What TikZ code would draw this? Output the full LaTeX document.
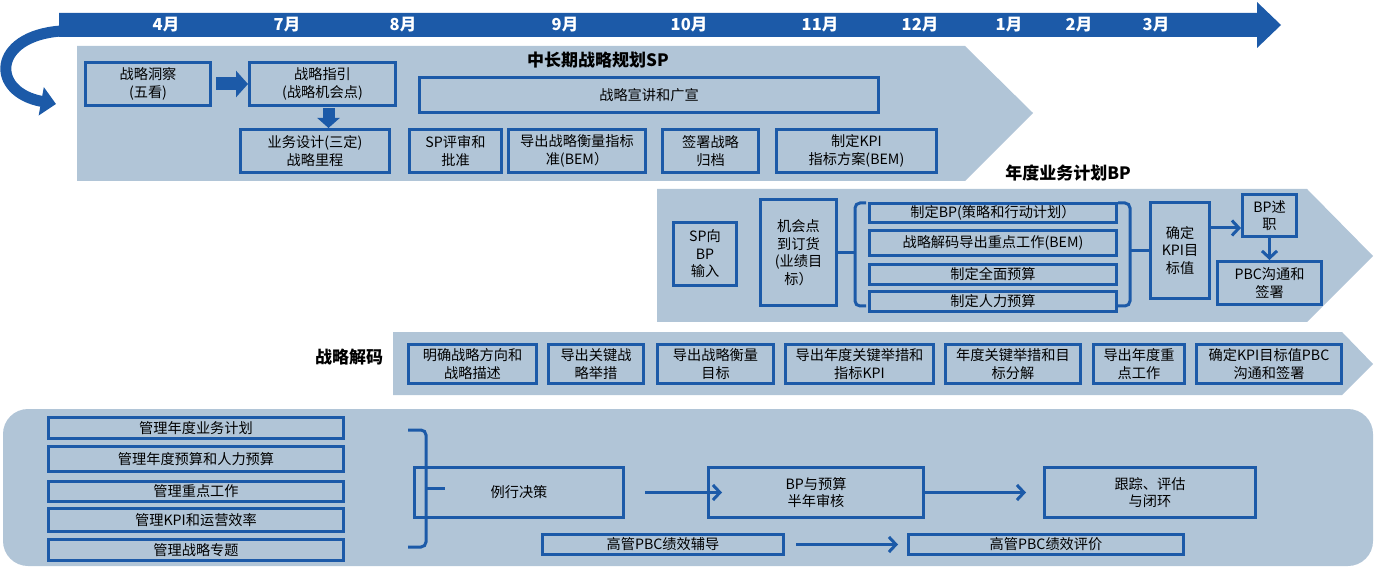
\documentclass[tikz,border=0pt]{standalone}
\usepackage{fontspec}
\setmainfont{Noto Sans CJK SC}
\usetikzlibrary{arrows.meta}
\definecolor{bblue}{HTML}{1C5AA8}
\definecolor{panel}{HTML}{B1C5D7}
\newcommand{\mybox}[6]{\node[box, minimum width={#4-#2-2.6}, minimum height={#5-#3-2.6}] (#1) at ({(#2+#4)/2},{(#3+#5)/2}) {#6};}
\begin{document}
\begin{tikzpicture}[x=1pt,y=-1pt,
 box/.style={draw=bblue, line width=2.6pt, inner sep=1pt, align=center, font=\fontsize{14.2}{17.5}\selectfont, text=black},
 ttl/.style={font=\bfseries\fontsize{17}{19}\selectfont, inner sep=0pt},
 mon/.style={font=\bfseries\fontsize{16.5}{18}\selectfont, text=white, inner sep=0pt},
 conn/.style={draw=bblue, line width=3pt, -{Straight Barb[length=7pt,width=15pt]}},
 brc/.style={draw=bblue, line width=3pt, rounded corners=5pt}
]
\useasboundingbox (0,0) rectangle (1376,569);

% panels
\fill[panel] (77,46) -- (965,46) -- (1033,113) -- (965,181) -- (77,181) -- cycle;
\fill[panel] (657,189) -- (1307,189) -- (1373,256) -- (1307,322) -- (657,322) -- cycle;
\fill[panel] (393,332) -- (1342,332) -- (1373,364) -- (1342,395) -- (393,395) -- cycle;
\fill[panel, rounded corners=25pt] (3,409) rectangle (1373,566);

% timeline
\fill[bblue] (59,13) -- (1257,13) -- (1257,2) -- (1281,25) -- (1257,48) -- (1257,37) -- (59,37) -- cycle;
\draw[bblue, line width=11pt, -{Triangle[length=15pt,width=28pt]}] (61,31) .. controls (-8,36) and (-10,92) .. (56,104);

\node[mon] (mA) at (166,25) {4月};
\node[mon] (mB) at (287,25) {7月};
\node[mon] (mC) at (403,25) {8月};
\node[mon] (mD) at (565,25) {9月};
\node[mon] (mE) at (689,25) {10月};
\node[mon] (mF) at (820,25) {11月};
\node[mon] (mG) at (920,25) {12月};
\node[mon] (mH) at (1009,25) {1月};
\node[mon] (mI) at (1079,25) {2月};
\node[mon] (mJ) at (1156,25) {3月};

% titles
\node[ttl] (sptitle) at (598,60) {中长期战略规划SP};
\node[ttl] (bptitle) at (1068,173) {年度业务计划BP};
\node[ttl] (dectitle) at (349,357) {战略解码};

% SP
\mybox{insight}{84}{61}{212}{107}{战略洞察\\(五看)}
\mybox{guide}{248}{61}{397}{107}{战略指引\\(战略机会点)}
\mybox{design}{239}{128}{391}{174}{业务设计(三定)\\战略里程}
\mybox{preach}{418}{76}{880}{114}{战略宣讲和广宣}
\mybox{review}{408}{128}{503}{174}{SP评审和\\批准}
\mybox{bem}{507}{128}{647}{174}{导出战略衡量指标\\准(BEM）}
\mybox{sign}{661}{128}{760}{174}{签署战略\\归档}
\mybox{kpi}{775}{128}{938}{174}{制定KPI\\指标方案(BEM)}

\draw[bblue, line width=13pt, -{Triangle[length=12pt,width=26pt]}] ([xshift=4pt]insight.east) -- (guide.west);
\draw[bblue, line width=12pt, -{Triangle[length=10pt,width=22pt]}] ([xshift=6pt,yshift=-1pt]guide.south) -- ([xshift=6pt]guide.south |- design.north);

% BP
\mybox{spbp}{672}{221}{738}{287}{SP向\\BP\\输入}
\mybox{opp}{759}{198}{838}{307}{机会点\\到订货\\(业绩目\\标）}
\mybox{bpa}{868}{202}{1118}{224}{制定BP(策略和行动计划）}
\mybox{bpb}{868}{229}{1118}{257}{战略解码导出重点工作(BEM)}
\mybox{bpc}{868}{263}{1118}{286}{制定全面预算}
\mybox{bpd}{868}{290}{1118}{313}{制定人力预算}
\mybox{kpit}{1149}{201}{1211}{300}{确定\\KPI目\\标值}
\mybox{bpsz}{1241}{193}{1298}{238}{BP述\\职}
\mybox{pbc}{1216}{260}{1323}{306}{PBC沟通和\\签署}

\coordinate (lb) at (855,254);
\coordinate (rb) at (1130,254);
\draw[brc] (866,203) -- (855,203) -- (855,306) -- (866,306);
\draw[brc, rounded corners=0pt] (opp.east) -- (opp.east -| lb);
\draw[brc] (1118,203) -- (1130,203) -- (1130,306) -- (1118,306);
\draw[brc, rounded corners=0pt] (kpit.west -| rb) -- (kpit.west);

\draw[conn] ([yshift=-27pt]kpit.north east) -- ([yshift=-27pt]kpit.north east -| bpsz.west);
\draw[conn] (bpsz.south) -- (bpsz.south |- pbc.north);

% decode
\mybox{da}{407}{343}{538}{385}{明确战略方向和\\战略描述}
\mybox{db}{547}{343}{645}{385}{导出关键战\\略举措}
\mybox{dc}{656}{343}{775}{385}{导出战略衡量\\目标}
\mybox{dd}{784}{343}{935}{385}{导出年度关键举措和\\指标KPI}
\mybox{de}{944}{343}{1082}{385}{年度关键举措和目\\标分解}
\mybox{df}{1092}{343}{1186}{385}{导出年度重\\点工作}
\mybox{dg}{1195}{343}{1343}{385}{确定KPI目标值PBC\\沟通和签署}

% bottom
\mybox{ma}{47}{416}{345}{440}{管理年度业务计划}
\mybox{mb}{47}{445}{345}{473}{管理年度预算和人力预算}
\mybox{mc}{47}{480}{345}{503}{管理重点工作}
\mybox{md}{47}{507}{345}{533}{管理KPI和运营效率}
\mybox{me}{47}{538}{345}{562}{管理战略专题}

\mybox{rd}{413}{466}{625}{519}{例行决策}
\mybox{bphalf}{707}{466}{925}{519}{BP与预算\\半年审核}
\mybox{track}{1043}{466}{1257}{519}{跟踪、评估\\与闭环}
\mybox{pbcc}{541}{533}{785}{556}{高管PBC绩效辅导}
\mybox{pbce}{907}{533}{1185}{556}{高管PBC绩效评价}

\coordinate (bb) at (426,488);
\draw[brc] (408,430) -- (426,430) -- (426,547) -- (408,547);
\draw[brc, rounded corners=0pt] (bb) -- ([xshift=19pt]bb);

\draw[conn] ([xshift=20pt]rd.east) -- ([xshift=15pt]bphalf.west);
\draw[conn] (bphalf.east) -- ([xshift=-17pt]track.west);
\draw[conn] ([xshift=11pt]pbcc.east) -- ([xshift=-9pt]pbce.west);
\end{tikzpicture}
\end{document}
